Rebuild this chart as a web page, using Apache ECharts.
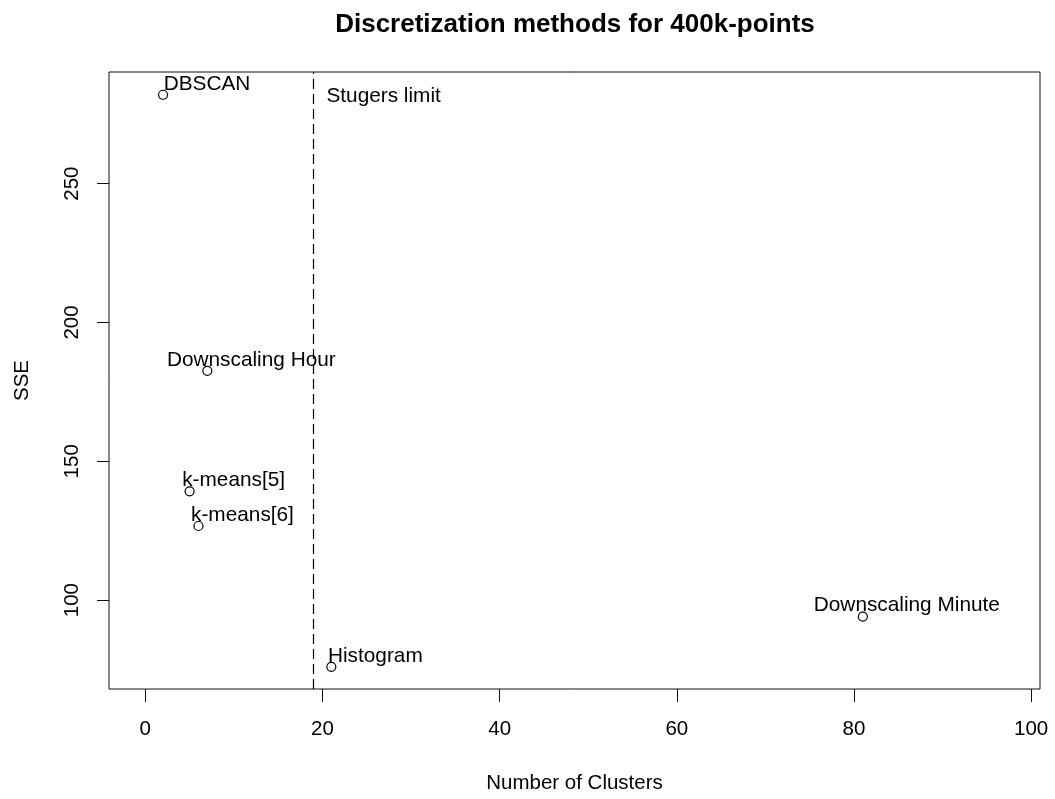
<!DOCTYPE html>
<html>
<head>
<meta charset="utf-8">
<script src="https://cdn.jsdelivr.net/npm/echarts@6/dist/echarts.min.js"></script>
<style>
  html, body { margin: 0; padding: 0; background: #fff; }
  #chart { width: 1055px; height: 799px; }
</style>
</head>
<body>
<div id="chart"></div>
<script>
// Discretization methods: number of clusters vs. SSE
const methods  = ['DBSCAN', 'Downscaling Hour', 'k-means[5]', 'k-means[6]', 'Histogram', 'Downscaling Minute'];
const clusters = [2, 7, 5, 6, 21, 81];
const sse      = [282, 182.6, 139.2, 126.7, 76, 94.1];

const stugersLimit = 19;
const stugersText  = 'Stugers limit';

const xTicks = [0, 20, 40, 60, 80, 100];
const yTicks = [100, 150, 200, 250];

const FONT = '"Liberation Sans", Arial, sans-serif';

const points = methods.map((m, i) => ({ name: m, value: [clusters[i], sse[i]] }));

const labelText = {
  fontFamily: FONT, fontSize: 20.8, color: '#000',
  textBorderWidth: 0, textBorderColor: 'transparent', textShadowBlur: 0
};

const chart = echarts.init(document.getElementById('chart'), null, { renderer: 'canvas' });
chart.setOption({
  animation: false,
  backgroundColor: '#fff',
  textStyle: { fontFamily: FONT, color: '#000' },
  title: {
    text: 'Discretization methods for 400k-points',
    left: 570,
    textAlign: 'center',
    top: 7,
    textStyle: { fontFamily: FONT, fontWeight: 'bold', fontSize: 26, color: '#000' }
  },
  grid: {
    left: 109, top: 72, right: 15, bottom: 109,
    show: true, borderColor: '#111', borderWidth: 1, backgroundColor: 'transparent'
  },
  xAxis: {
    type: 'value',
    min: -4.1, max: 101,
    name: 'Number of Clusters',
    nameLocation: 'middle',
    nameGap: 84,
    nameTextStyle: { fontFamily: FONT, fontSize: 20.5, color: '#000' },
    axisLine: { show: false, onZero: false },
    axisTick: { show: true, inside: false, length: 13, customValues: xTicks, lineStyle: { color: '#111', width: 1 } },
    axisLabel: { customValues: xTicks, margin: 30, fontFamily: FONT, fontSize: 20.5, color: '#000' },
    splitLine: { show: false }
  },
  yAxis: {
    type: 'value',
    min: 68, max: 290.2,
    name: 'SSE',
    nameLocation: 'middle',
    nameGap: 76,
    nameTextStyle: { fontFamily: FONT, fontSize: 20.5, color: '#000' },
    axisLine: { show: false, onZero: false },
    axisTick: { show: true, inside: false, length: 12, customValues: yTicks, lineStyle: { color: '#111', width: 1 } },
    axisLabel: { customValues: yTicks, rotate: 90, margin: 26, fontFamily: FONT, fontSize: 20.5, color: '#000' },
    splitLine: { show: false }
  },
  series: [
    {
      type: 'scatter',
      data: points,
      symbol: 'circle',
      symbolSize: 9,
      itemStyle: { color: '#fff', borderColor: '#000', borderWidth: 1.2, opacity: 1 },
      label: Object.assign({
        show: true,
        position: 'inside',
        offset: [44, -11],
        formatter: p => p.name
      }, labelText),
      markLine: {
        silent: true,
        symbol: ['none', 'none'],
        label: { show: false },
        lineStyle: { color: '#000', type: [10, 5], width: 1.2, opacity: 1 },
        data: [{ xAxis: stugersLimit }]
      }
    },
    {
      type: 'scatter',
      data: [{ name: stugersText, value: [stugersLimit, sse[0]] }],
      symbol: 'circle',
      symbolSize: 1,
      itemStyle: { color: 'rgba(0,0,0,0)', borderWidth: 0, opacity: 1 },
      silent: true,
      label: Object.assign({
        show: true,
        position: 'inside',
        offset: [70, 1],
        formatter: p => p.name
      }, labelText)
    }
  ]
});
</script>
</body>
</html>
